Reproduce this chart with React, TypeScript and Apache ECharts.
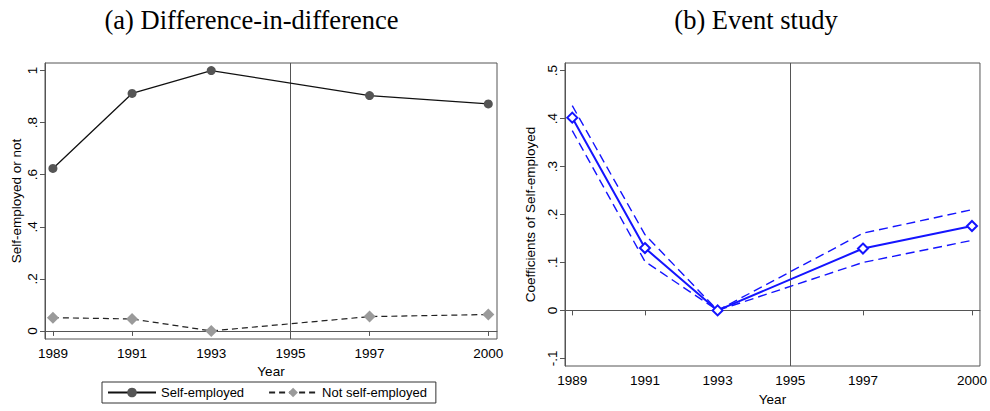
import React, { useEffect, useRef } from "react";
import * as echarts from "echarts";

const years = [1989, 1991, 1993, 1997, 2000];
const xTicks = [1989, 1991, 1993, 1995, 1997, 2000];
const leftYTicks = [0, 0.2, 0.4, 0.6, 0.8, 1];
const rightYTicks = [-0.1, 0, 0.1, 0.2, 0.3, 0.4, 0.5];

const selfEmployed = [0.624, 0.912, 1.0, 0.904, 0.872];
const notSelfEmployed = [0.051, 0.046, 0.0, 0.055, 0.063];

const coef = [0.402, 0.13, 0.0, 0.129, 0.176];
const ciUpper = [0.427, 0.158, 0.0, 0.161, 0.21];
const ciLower = [0.375, 0.102, 0.0, 0.1, 0.146];

const treatYear = 1995;

const AX = "#555";
const BLUE = "#1414ff";
const FONT = "Liberation Sans, Arial, sans-serif";

const fmt = (v: number) => {
  const r = Math.round(v * 10) / 10;
  if (r === 0) return "0";
  return String(r).replace("0.", ".");
};

const pairs = (ys: number[]) => years.map((y, i) => [y, ys[i]]);

export default function App() {
  const ref = useRef<HTMLDivElement>(null);
  useEffect(() => {
    if (!ref.current) return;
    const chart = echarts.init(ref.current, undefined, { renderer: "svg" });

    const xAxisBase = (gridIndex: number, nameGap: number) => ({
      type: "value",
      gridIndex,
      min: 1988.8,
      max: 2000.22,
      name: "Year",
      nameLocation: "middle",
      nameGap,
      nameTextStyle: { color: "#000", fontSize: 13.5, fontFamily: FONT },
      axisLine: { show: true, lineStyle: { color: AX, width: 1 } },
      axisTick: { show: true, length: 5, lineStyle: { color: AX }, customValues: xTicks },
      axisLabel: {
        color: "#000",
        fontSize: 13.5,
        fontFamily: FONT,
        margin: 7,
        customValues: xTicks,
        formatter: (v: number) => String(Math.round(v)),
      },
      splitLine: { show: false },
    });

    const yAxisBase = (
      gridIndex: number,
      min: number,
      max: number,
      ticks: number[],
      name: string,
      nameGap: number
    ) => ({
      type: "value",
      gridIndex,
      min,
      max,
      name,
      nameLocation: "middle",
      nameGap,
      nameTextStyle: { color: "#000", fontSize: 13.5, fontFamily: FONT },
      axisLine: { show: true, lineStyle: { color: AX, width: 1 } },
      axisTick: { show: true, length: 5, lineStyle: { color: AX }, customValues: ticks },
      axisLabel: {
        color: "#000",
        fontSize: 13.5,
        fontFamily: FONT,
        rotate: 90,
        margin: 6,
        customValues: ticks,
        formatter: (v: number) => fmt(v),
      },
      splitLine: { show: false },
    });

    chart.setOption({
      animation: false,
      backgroundColor: "#fff",
      graphic: [
        {
          type: "text",
          x: 251.5,
          y: 20,
          style: {
            text: "(a) Difference-in-difference",
            font: '26.5px "Liberation Serif", "Times New Roman", serif',
            align: "center",
            verticalAlign: "middle",
            fill: "#000",
          },
        },
        {
          type: "text",
          x: 756,
          y: 20,
          style: {
            text: "(b) Event study",
            font: '26.5px "Liberation Serif", "Times New Roman", serif',
            align: "center",
            verticalAlign: "middle",
            fill: "#000",
          },
        },
      ],
      grid: [
        { left: 45, top: 63, width: 452, height: 276, show: true, borderColor: AX, borderWidth: 1, backgroundColor: "#fff" },
        { left: 565, top: 63, width: 419, height: 304, show: true, borderColor: AX, borderWidth: 1, backgroundColor: "#fff" },
      ],
      legend: {
        data: ["Self-employed", "Not self-employed"],
        left: 102,
        top: 382,
        orient: "horizontal",
        borderColor: "#333",
        borderWidth: 1,
        borderRadius: 0,
        padding: [4, 9, 4, 5],
        itemWidth: 48,
        itemHeight: 12,
        itemGap: 24,
        textStyle: { color: "#000", fontSize: 13, fontFamily: FONT },
      },
      xAxis: [xAxisBase(0, 21), xAxisBase(1, 26)],
      yAxis: [
        yAxisBase(0, -0.031, 1.029, leftYTicks, "Self-employed or not", 22),
        yAxisBase(1, -0.116, 0.516, rightYTicks, "Coefficients of Self-employed", 28),
      ],
      series: [
        {
          type: "line",
          name: "Self-employed",
          xAxisIndex: 0,
          yAxisIndex: 0,
          data: pairs(selfEmployed),
          symbol: "circle",
          symbolSize: 9,
          itemStyle: { color: "#555" },
          lineStyle: { color: "#111", width: 1.3 },
          z: 3,
          markLine: {
            silent: true,
            symbol: "none",
            label: { show: false },
            lineStyle: { color: AX, width: 1, type: "solid" },
            data: [{ xAxis: treatYear }],
            z: 1,
          },
        },
        {
          type: "line",
          name: "Not self-employed",
          xAxisIndex: 0,
          yAxisIndex: 0,
          data: pairs(notSelfEmployed),
          symbol: "diamond",
          symbolSize: 12,
          itemStyle: { color: "#9a9a9a" },
          lineStyle: { color: "#222", width: 1.2, type: [6, 4] },
          z: 3,
        },
        {
          type: "line",
          name: "CI lower",
          xAxisIndex: 1,
          yAxisIndex: 1,
          data: pairs(ciLower),
          symbol: "none",
          lineStyle: { color: BLUE, width: 1.4, type: [9, 5] },
          z: 2,
          markLine: {
            silent: true,
            symbol: "none",
            label: { show: false },
            lineStyle: { color: AX, width: 1, type: "solid" },
            data: [{ xAxis: treatYear }, { yAxis: 0 }],
            z: 1,
          },
        },
        {
          type: "line",
          name: "CI upper",
          xAxisIndex: 1,
          yAxisIndex: 1,
          data: pairs(ciUpper),
          symbol: "none",
          lineStyle: { color: BLUE, width: 1.4, type: [9, 5] },
          z: 2,
        },
        {
          type: "line",
          name: "Coefficient",
          xAxisIndex: 1,
          yAxisIndex: 1,
          data: pairs(coef),
          symbol: "emptyDiamond",
          symbolSize: 10,
          showAllSymbol: true,
          itemStyle: { color: BLUE, borderWidth: 1 },
          lineStyle: { color: BLUE, width: 2 },
          z: 3,
        },
      ],
    });

    return () => chart.dispose();
  }, []);

  return (
    <div
      ref={ref}
      style={{ position: "fixed", left: 0, top: 0, width: 990, height: 411 }}
    />
  );
}
